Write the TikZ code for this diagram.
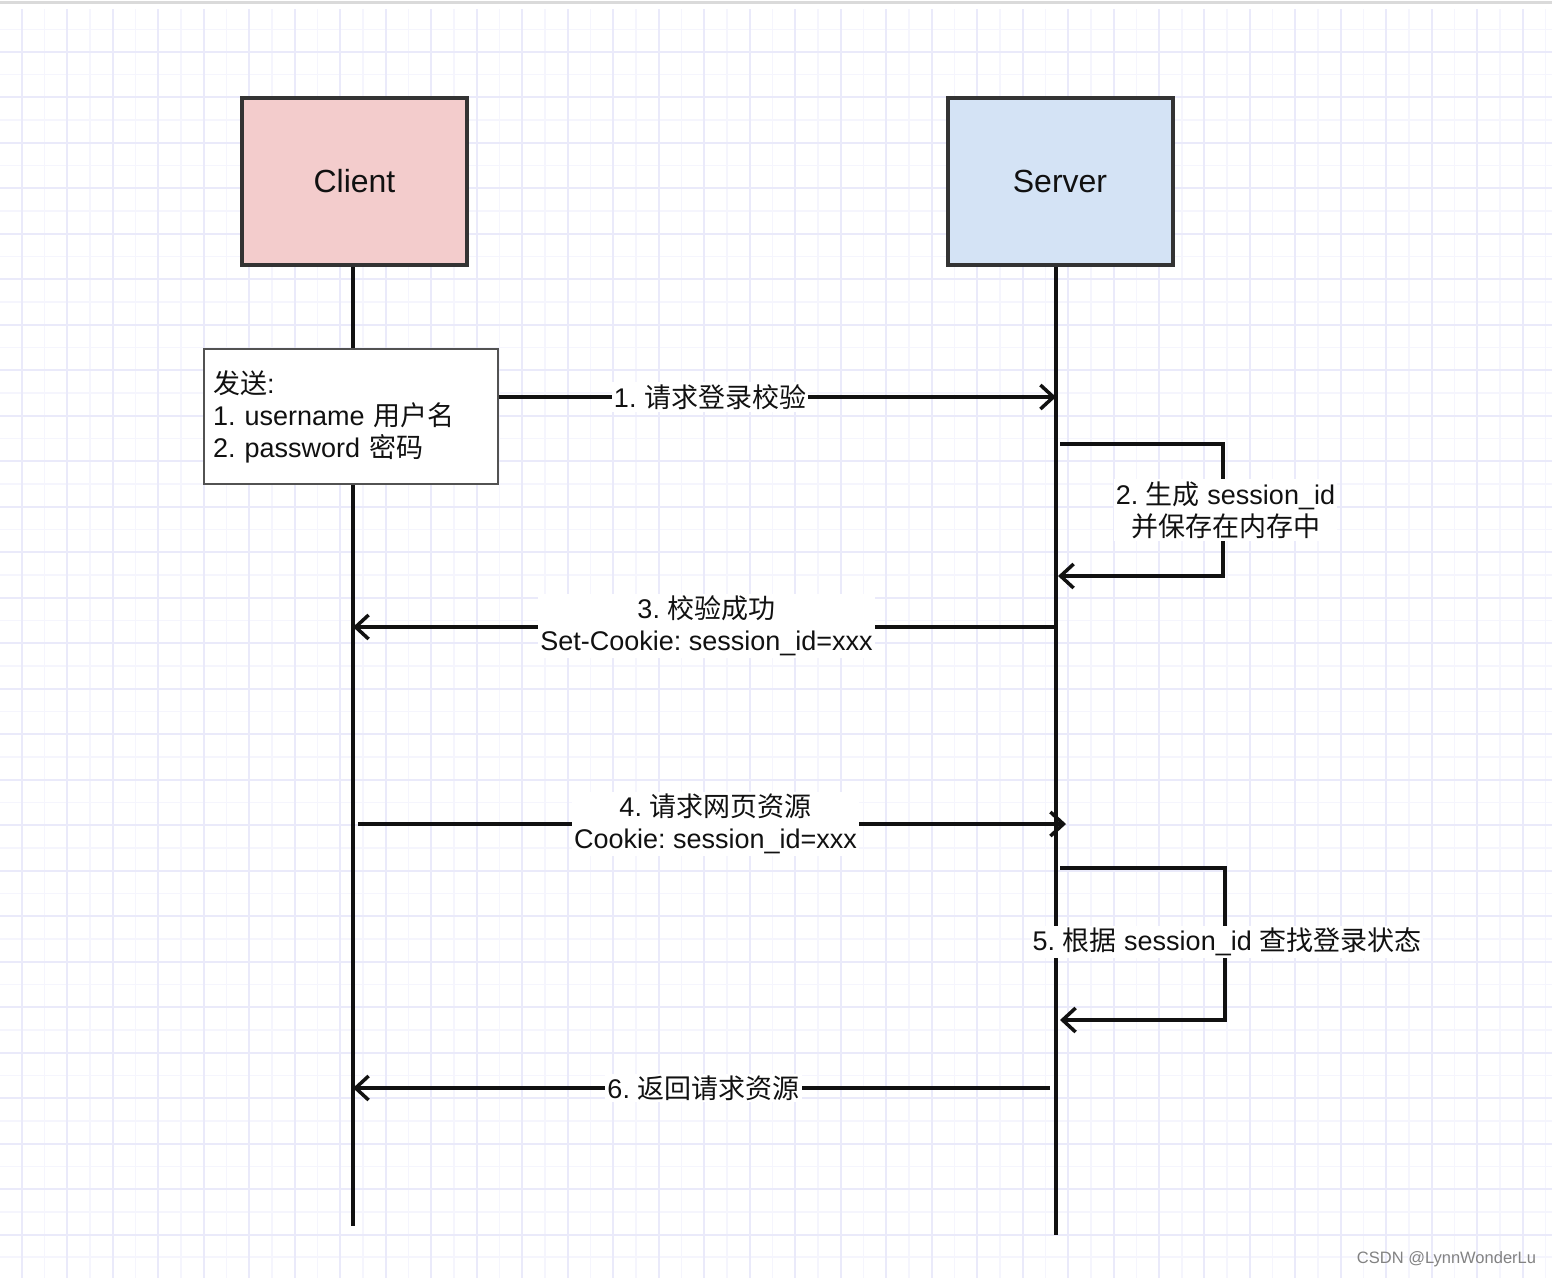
\documentclass[tikz,border=0pt]{standalone}
\usepackage{fontspec}
\setmainfont{Liberation Sans}
\newfontfamily\cjk{Noto Sans CJK SC}
\newcommand{\zh}[1]{{\cjk #1}}
\usetikzlibrary{arrows.meta}
\definecolor{gridmin}{RGB}{245,245,253}
\definecolor{gridmaj}{RGB}{234,234,250}
\definecolor{clientfill}{RGB}{243,204,204}
\definecolor{serverfill}{RGB}{212,227,245}
\definecolor{boxline}{RGB}{51,51,51}
\definecolor{inkc}{RGB}{17,17,17}
\definecolor{topline}{RGB}{218,218,218}
\definecolor{wmark}{RGB}{130,130,130}
\frenchspacing
\begin{document}
\frenchspacing
\begin{tikzpicture}[x=1pt,y=-1pt,
  actor/.style={draw=boxline, line width=4pt, minimum width=225pt, minimum height=167pt,
    font=\fontsize{32}{38}\selectfont, text=inkc, inner sep=0pt},
  lifeline/.style={draw=inkc, line width=4pt},
  msg/.style={draw=inkc, line width=3.5pt, line join=miter, -{Straight Barb[length=13pt,width=24pt]}},
  lbl/.style={fill=white, font=\fontsize{27}{32}\selectfont\frenchspacing, align=center, inner xsep=2pt, inner ysep=2pt, text=inkc},
  sendbox/.style={draw=boxline!85, line width=2pt, fill=white, minimum width=294pt, minimum height=135pt,
    text width=276pt, align=left, font=\fontsize{27}{32}\selectfont\frenchspacing, text=inkc, inner sep=0pt}
]
\useasboundingbox (0,0) rectangle (1552,1278);
\fill[white] (0,0) rectangle (1552,1278);
\draw[topline, line width=3pt] (0,2) -- (1552,2);
\begin{scope}
  \clip (0,9) rectangle (1552,1278);
  \foreach \j in {0,...,34} {
    \draw[gridmin, line width=1.5pt] ({-0.74+45.48*\j},9) -- ({-0.74+45.48*\j},1278);
  }
  \foreach \j in {0,...,27} {
    \draw[gridmin, line width=1.5pt] (0,{29.26+45.48*\j}) -- (1552,{29.26+45.48*\j});
  }
  \foreach \j in {0,...,33} {
    \draw[gridmaj, line width=2pt] ({22+45.48*\j},9) -- ({22+45.48*\j},1278);
  }
  \foreach \j in {0,...,27} {
    \draw[gridmaj, line width=2pt] (0,{52+45.48*\j}) -- (1552,{52+45.48*\j});
  }
\end{scope}

% actors
\node[actor, fill=clientfill] (client) at (354.5,181.5) {Client};
\node[actor, fill=serverfill] (server) at (1060,181.5) {Server};

% lifelines
\coordinate (cend) at (353,1226);
\coordinate (send) at (1056,1235);
\draw[lifeline] (cend |- client.south) -- (cend);
\draw[lifeline] (send |- server.south) -- (send);

% send box
\node[sendbox] (sendb) at (351,416.5) {\zh{发送}:\\1. username \zh{用户名}\\2. password \zh{密码}};

% 1
\coordinate (s1) at (1056,397);
\draw[msg] (sendb.east |- s1) -- (s1);
\node[lbl] (l1) at (710,397) {1. \zh{请求登录校验}};

% 2 loop
\coordinate (l2a) at (1060,444);
\coordinate (l2b) at (1223,444);
\coordinate (l2c) at (1223,576);
\coordinate (l2d) at (1058,576);
\draw[msg] (l2a) -- (l2b) -- (l2c) -- (l2d);
\node[lbl] (l2) at (1225.5,510) {2. \zh{生成} session\_id\\\zh{并保存在内存中}};

% 3
\coordinate (s3) at (1056,627);
\coordinate (c3) at (353,627);
\draw[msg] (s3) -- (c3);
\node[lbl] (l3) at (706.5,626) {3. \zh{校验成功}\\Set-Cookie: session\_id=xxx};

% 4
\coordinate (c4) at (358,824);
\coordinate (s4) at (1066,824);
\draw[msg] (c4) -- (s4);
\node[lbl] (l4) at (715.5,824) {4. \zh{请求网页资源}\\Cookie: session\_id=xxx};

% 5 loop
\coordinate (l5a) at (1060,868);
\coordinate (l5b) at (1225,868);
\coordinate (l5c) at (1225,1020);
\coordinate (l5d) at (1060,1020);
\draw[msg] (l5a) -- (l5b) -- (l5c) -- (l5d);
\node[lbl] (l5) at (1227,942) {5. \zh{根据} session\_id \zh{查找登录状态}};

% 6
\coordinate (s6) at (1050,1088);
\coordinate (c6) at (353,1088);
\draw[msg] (s6) -- (c6);
\node[lbl] (l6) at (703.5,1088) {6. \zh{返回请求资源}};

% watermark
\node[text=wmark, font=\fontsize{16.5}{20}\selectfont, inner sep=0pt] (wm) at (1446.5,1259) {CSDN @LynnWonderLu};
\end{tikzpicture}
\end{document}
